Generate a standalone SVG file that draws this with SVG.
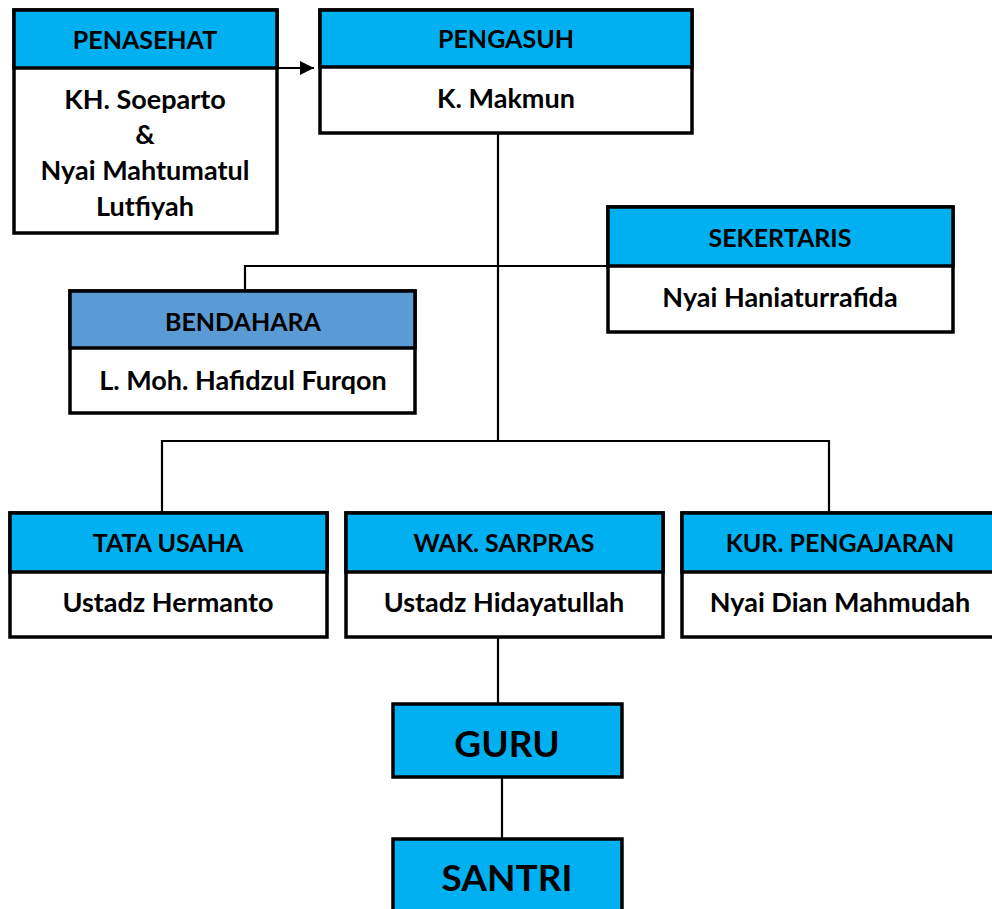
<svg xmlns="http://www.w3.org/2000/svg" width="992" height="909" viewBox="0 0 992 909">
<defs>
<style>
.box{fill:#fff;stroke:#000;stroke-width:3.5}
.hd{fill:#00B0F0;stroke:#000;stroke-width:3.5}
.hd2{fill:#5B9BD5;stroke:#000;stroke-width:3.5}
.t{font-family:Lato,"Open Sans",sans-serif;font-weight:bold;font-size:25px;fill:#000;text-anchor:middle}
.b{font-size:27px}
.big{font-size:37px}
.ln{fill:none;stroke:#000;stroke-width:2.2}
</style>
<marker id="ah" viewBox="0 0 10 10" refX="10" refY="5" markerWidth="15" markerHeight="14" markerUnits="userSpaceOnUse" orient="auto">
<path d="M0,0 L10,5 L0,10 Z" fill="#000"/>
</marker>
</defs>
<g id="connectors">
<line class="ln" x1="278" y1="68" x2="314" y2="68" marker-end="url(#ah)"/>
<line class="ln" x1="498" y1="133" x2="498" y2="441"/>
<polyline class="ln" points="245,290 245,266 608,266"/>
<polyline class="ln" points="162,512 162,441 829,441 829,512"/>
<line class="ln" x1="498" y1="637" x2="498" y2="704"/>
<line class="ln" x1="502" y1="777" x2="502" y2="838"/>
</g>
<g id="penasehat">
<rect class="box" x="14" y="10" width="263" height="223"/>
<rect class="hd" x="14" y="10" width="263" height="58"/>
<text class="t" x="145" y="49">PENASEHAT</text>
<text class="t b" x="145" y="109">KH. Soeparto</text>
<text class="t b" x="145" y="144">&amp;</text>
<text class="t b" x="145" y="180">Nyai Mahtumatul</text>
<text class="t b" x="145" y="216">Lutfiyah</text>
</g>
<g id="pengasuh">
<rect class="box" x="320" y="10" width="372" height="123"/>
<rect class="hd" x="320" y="10" width="372" height="57"/>
<text class="t" x="506" y="48">PENGASUH</text>
<text class="t b" x="506" y="108">K. Makmun</text>
</g>
<g id="sekertaris">
<rect class="box" x="608" y="207" width="345" height="125"/>
<rect class="hd" x="608" y="207" width="345" height="59"/>
<text class="t" x="780" y="247">SEKERTARIS</text>
<text class="t b" x="780" y="307">Nyai Haniaturrafida</text>
</g>
<g id="bendahara">
<rect class="box" x="70" y="291" width="345" height="122"/>
<rect class="hd2" x="70" y="291" width="345" height="57"/>
<text class="t" x="243" y="331">BENDAHARA</text>
<text class="t b" x="243" y="390">L. Moh. Hafidzul Furqon</text>
</g>
<g id="tata-usaha">
<rect class="box" x="10" y="513" width="317" height="124"/>
<rect class="hd" x="10" y="513" width="317" height="59"/>
<text class="t" x="168" y="552">TATA USAHA</text>
<text class="t b" x="168" y="612">Ustadz Hermanto</text>
</g>
<g id="wak-sarpras">
<rect class="box" x="346" y="513" width="317" height="124"/>
<rect class="hd" x="346" y="513" width="317" height="59"/>
<text class="t" x="504" y="552">WAK. SARPRAS</text>
<text class="t b" x="504" y="612">Ustadz Hidayatullah</text>
</g>
<g id="kur-pengajaran">
<rect class="box" x="682" y="513" width="318" height="124"/>
<rect class="hd" x="682" y="513" width="318" height="59"/>
<text class="t" x="840" y="552">KUR. PENGAJARAN</text>
<text class="t b" x="840" y="612">Nyai Dian Mahmudah</text>
</g>
<g id="guru">
<rect class="hd" x="393" y="704" width="229" height="73"/>
<text class="t big" x="507" y="757">GURU</text>
</g>
<g id="santri">
<rect class="hd" x="393" y="839" width="229" height="80"/>
<text class="t big" x="507" y="891">SANTRI</text>
</g>
</svg>
